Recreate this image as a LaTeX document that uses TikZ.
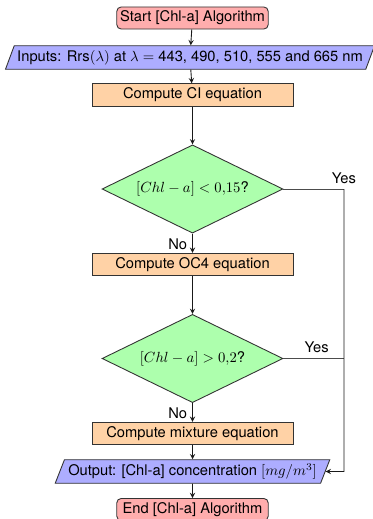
\documentclass[tikz,border=0pt]{standalone}
\usepackage[no-math]{fontspec}
\setmainfont{TeX Gyre Heros}
\usepackage{amsmath,amssymb}
\usetikzlibrary{shapes.geometric}

\begin{document}
\begin{tikzpicture}[x=0.68pt,y=-0.68pt,line width=0.6pt,
    startstop/.style={draw=black!80,fill=red!32,rounded corners=3pt,minimum width=103pt,minimum height=15pt,inner sep=2pt},
    iobox/.style={draw=black!80,fill=blue!32,trapezium,trapezium left angle=67,trapezium right angle=113,trapezium stretches=true,minimum height=16pt,inner sep=2pt},
    process/.style={draw=black!80,fill=orange!35,minimum width=136.7pt,minimum height=15.3pt,inner sep=2pt},
    decision/.style={draw=black!80,fill=green!32,diamond,aspect=2.05,minimum width=123pt,minimum height=60pt,inner sep=0pt},
    arrow/.style={->,>=stealth,black!90}]
\useasboundingbox (0,0) rectangle (373,519);
\node[startstop] (start) at (192.5,18) {Start [Chl-a] Algorithm};
\node[iobox,minimum width=249pt] (in) at (190,57.5) {Inputs: Rrs$(\lambda)$ at $\lambda=$ 443, 490, 510, 555 and 665 nm};
\node[process] (ci) at (192.5,95) {Compute CI equation};
\node[decision] (dec1) at (192.5,189) {$[Chl-a]<0{,}15$?};
\node[process] (oc4) at (192.5,264.5) {Compute OC4 equation};
\node[decision] (dec2) at (192.5,358.5) {$[Chl-a]>0{,}2$?};
\node[process] (mix) at (192.5,433.5) {Compute mixture equation};
\node[iobox,minimum width=187pt] (out) at (192.5,471.5) {Output: [Chl-a] concentration $[mg/m^3]$};
\node[startstop] (end) at (192.5,509.5) {End [Chl-a] Algorithm};
\coordinate (r1) at (344,189);
\coordinate (r2) at (344,358.5);
\coordinate (r3) at (344,471.5);
\draw[arrow] (start) -- (in);
\draw[arrow] (in) -- (ci);
\draw[arrow] (ci) -- (dec1);
\draw[arrow] (dec1) -- node[left,pos=0.55,text=black] {No} (oc4);
\draw[arrow] (oc4) -- (dec2);
\draw[arrow] (dec2) -- node[left,pos=0.55,text=black] {No} (mix);
\draw[arrow] (mix) -- (out);
\draw[arrow] (out) -- (end);
\draw[black!70] (dec1.east) -- (r1);
\node[above,text=black] (yes1) at (r1) {Yes};
\draw[black!70] (dec2.east) -- node[above,pos=0.55,text=black] (yes2) {Yes} (r2);
\draw[arrow] (r1) -- (r3) -- (out.east);
\end{tikzpicture}
\end{document}
